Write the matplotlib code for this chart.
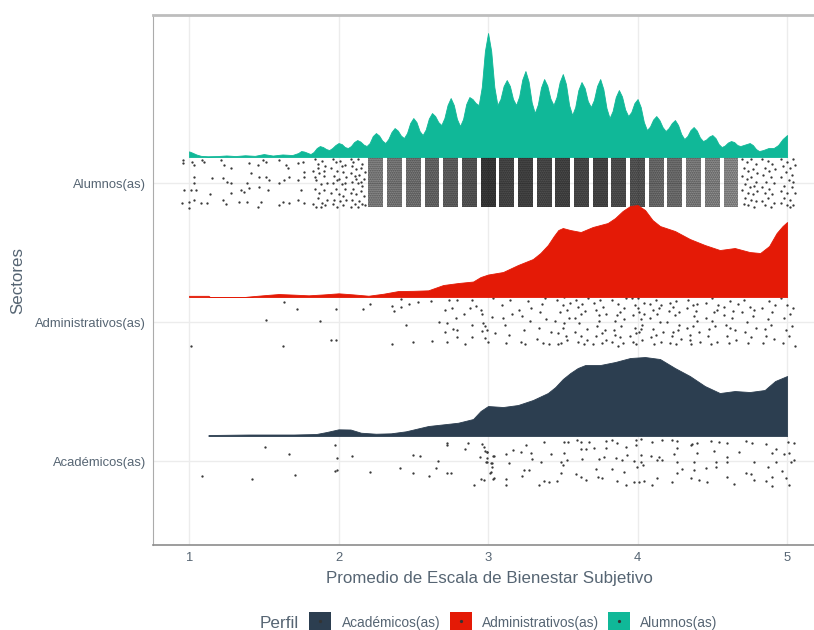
# -*- coding: utf-8 -*-
import matplotlib
matplotlib.use("Agg")
import matplotlib.pyplot as plt
from matplotlib.lines import Line2D
from matplotlib.patches import Rectangle

plt.rcParams['font.family'] = ['Liberation Sans', 'DejaVu Sans']

"""datos"""
sectores = ['Académicos(as)', 'Administrativos(as)', 'Alumnos(as)']
colores = ['#2C3E50', '#E41A06', '#10B898']
x_ticks = [1, 2, 3, 4, 5]

# densidades (centesimas)
alumnos_x = [1.0, 1.02, 1.05, 1.08, 1.125, 1.19, 1.25, 1.31, 1.375, 1.44, 1.5, 1.56, 1.625, 1.69, 1.73, 1.75, 1.77,
             1.8125, 1.833, 1.854, 1.875, 1.896, 1.917, 1.9375, 1.958, 1.979, 2.0, 2.021, 2.042, 2.0625,
             2.083, 2.104, 2.125, 2.146, 2.167, 2.1875, 2.208, 2.229, 2.25, 2.271, 2.292, 2.3125,
             2.333, 2.354, 2.375, 2.396, 2.417, 2.4375, 2.458, 2.479, 2.5, 2.521, 2.542, 2.5625,
             2.583, 2.604, 2.625, 2.646, 2.667, 2.6875, 2.708, 2.729, 2.75, 2.771, 2.792, 2.8125,
             2.833, 2.854, 2.875, 2.896, 2.917, 2.9375, 2.958, 2.979, 3.0, 3.021, 3.042, 3.0625,
             3.083, 3.104, 3.125, 3.146, 3.167, 3.1875, 3.208, 3.229, 3.25, 3.271, 3.292, 3.3125,
             3.333, 3.354, 3.375, 3.396, 3.417, 3.4375, 3.458, 3.479, 3.5, 3.521, 3.542, 3.5625,
             3.583, 3.604, 3.625, 3.646, 3.667, 3.6875, 3.708, 3.729, 3.75, 3.771, 3.792, 3.8125,
             3.833, 3.854, 3.875, 3.896, 3.917, 3.9375, 3.958, 3.979, 4.0, 4.021, 4.042, 4.0625,
             4.083, 4.104, 4.125, 4.146, 4.167, 4.1875, 4.208, 4.229, 4.25, 4.271, 4.292, 4.3125,
             4.333, 4.354, 4.375, 4.396, 4.417, 4.4375, 4.458, 4.479, 4.5, 4.521, 4.542, 4.5625,
             4.583, 4.604, 4.625, 4.646, 4.667, 4.6875, 4.708, 4.729, 4.75, 4.771, 4.792, 4.8125,
             4.84, 4.875, 4.91, 4.94, 4.97, 5.0]
alumnos_d = [5.7, 4.5, 2.5, 1.2, 0.8, 1.0, 1.6, 1.0, 1.8, 1.2, 3.0, 1.5, 2.6, 2.0, 4, 6, 5.5,
             3, 5, 9, 11, 10, 8, 7, 9, 12, 14, 13, 10, 9,
             11, 15, 17, 15.5, 12.5, 11, 14, 21, 24, 21.5, 16.5, 14,
             18, 25, 29, 26.5, 21.5, 19, 24, 34, 39, 35, 26, 22,
             27.5, 38.5, 44, 41, 35, 32, 39, 52, 59, 52, 38, 31,
             38, 53, 60, 58, 54, 52, 70, 106, 124, 106, 70, 52,
             58, 71, 77, 71, 58, 52, 60.5, 77.5, 86, 75.5, 54.5, 44,
             52.5, 69.5, 78, 71.5, 58.5, 52, 60, 75, 83, 73, 52, 42,
             50, 67, 75, 69, 56, 50, 57, 71, 78, 68, 49, 39,
             46, 60, 67, 60.5, 47.5, 41, 45, 54, 58, 50, 35, 27,
             30.5, 37.5, 41, 37, 30, 26, 29, 34, 37, 32, 23, 18,
             21, 27, 30, 26.5, 19.5, 16, 17.5, 20.5, 22, 19, 13, 10,
             11.5, 14.5, 16, 15, 12, 11, 12, 13, 14, 12, 8, 6,
             7, 9, 9, 12, 18, 22]

admin_x = [1.0, 1.13, 1.14, 1.37, 1.4, 1.5, 1.6, 1.7, 1.8, 1.9, 2.0, 2.1, 2.2, 2.3, 2.4, 2.5, 2.6, 2.7, 2.8, 2.9,
           2.95, 3.0, 3.1, 3.2, 3.3, 3.35, 3.4, 3.44, 3.47, 3.5, 3.55, 3.62, 3.7, 3.8, 3.85, 3.9, 3.95, 4.0, 4.05,
           4.1, 4.15, 4.25, 4.35, 4.45, 4.55, 4.65, 4.75, 4.82, 4.88, 4.93, 4.97, 5.0]
admin_d = [1.2, 1.2, 0, 0, 0.5, 1.8, 3, 2.4, 1.7, 2.6, 3.7, 2.6, 1.3, 3.3, 6, 6.2, 6.7, 12, 14, 15.5,
           20, 22.5, 25, 32, 38, 44, 52, 61, 67, 69, 67, 65, 70, 74, 79, 86, 91, 92, 87,
           77, 71, 66, 58, 52, 47, 49, 45, 44, 51, 64, 71, 75]

academicos_x = [1.13, 1.4, 1.7, 1.85, 1.92, 2.0, 2.08, 2.15, 2.25, 2.35, 2.45, 2.6, 2.8, 2.9, 2.95, 3.0, 3.1, 3.2,
                3.3, 3.4, 3.45, 3.5, 3.55, 3.6, 3.65, 3.75, 3.85, 3.95, 4.05, 4.15, 4.25, 4.35, 4.45, 4.55, 4.65,
                4.75, 4.85, 4.92, 5.0]
academicos_d = [1, 1.5, 1.5, 2, 4, 6.7, 6.5, 3.3, 2.3, 2.7, 4.7, 10, 13.3, 17, 25, 30, 29, 31,
                36, 43, 49, 57, 63, 68, 71, 71, 74, 78, 79, 77, 68, 60, 50, 43, 45,
                44, 46, 55, 60]

# puntos individuales (x, y)
academicos_puntos = [
    (1.508, 1.098), (1.671, 1.05), (1.975, 1.115), (1.991, 1.024), (2.089, 1.036), (1.089, 0.892), (1.423, 0.873),
    (1.709, 0.897), (1.978, 0.928), (1.989, 0.938), (2.21, 0.923), (2.414, 0.952), (2.501, 1.041), (2.544, 1.036),
    (2.501, 0.914), (2.667, 1.002), (2.651, 0.952), (2.608, 0.894), (2.723, 1.127), (2.723, 1.115), (2.846, 1.086),
    (2.864, 1.132), (2.727, 0.916), (2.749, 0.916), (2.962, 1.12), (2.946, 1.031), (2.98, 1.072), (2.996, 1.067),
    (2.996, 1.024), (3.031, 1.036), (2.987, 0.99), (3.02, 0.983), (3.029, 0.959), (3.011, 0.914), (2.904, 0.83),
    (2.951, 0.868), (2.975, 0.863), (3.031, 0.873),
    (3.375, 1.139), (3.509, 1.139), (3.535, 1.134), (3.598, 1.151), (3.62, 1.134), (3.676, 1.134), (3.787, 1.144),
    (3.832, 1.151), (3.861, 1.127), (3.988, 1.151), (4.021, 1.158), (4.099, 1.139), (4.166, 1.151), (4.233, 1.151),
    (4.267, 1.144), (4.367, 1.12), (4.4, 1.127), (4.49, 1.144), (4.545, 1.134), (4.601, 1.127), (4.724, 1.144),
    (4.768, 1.127), (4.858, 1.12), (5.003, 1.134), (5.043, 1.127),
    (2.973, 1.103), (2.996, 1.067), (3.04, 1.036), (3.118, 1.048), (3.167, 1.079), (3.219, 1.067), (3.252, 1.115),
    (3.285, 1.055), (3.419, 1.05), (3.509, 1.055), (3.62, 1.086), (3.653, 1.086), (3.709, 1.091), (3.787, 1.091),
    (3.776, 1.031), (3.854, 1.019), (3.921, 1.103), (3.932, 1.043), (3.899, 1.007), (3.988, 1.115), (4.021, 1.043),
    (4.088, 1.036), (4.144, 1.031), (4.166, 1.007), (4.244, 1.048), (4.267, 1.091), (4.356, 1.115), (4.4, 1.055),
    (4.512, 1.072), (4.601, 1.031), (4.679, 1.062), (4.902, 1.055), (4.925, 1.086), (4.98, 1.048), (5.014, 1.055),
    (5.047, 1.007), (2.996, 0.995), (3.029, 0.983), (3.14, 0.983), (3.297, 1.012), (3.352, 0.99), (3.486, 0.99),
    (3.526, 1.007), (3.631, 1.014), (3.743, 1.014), (3.977, 1.0), (4.021, 0.99), (4.133, 1.007), (4.267, 0.995),
    (4.378, 0.995), (4.523, 0.995), (4.601, 0.995), (4.78, 0.995), (4.925, 0.99), (5.025, 0.995),
    (3.018, 0.918), (3.04, 0.875), (3.118, 0.868), (3.118, 0.827), (3.23, 0.892), (3.241, 0.935), (3.274, 0.935),
    (3.341, 0.827), (3.375, 0.858), (3.408, 0.846), (3.464, 0.856), (3.486, 0.911), (3.498, 0.971), (3.587, 0.904),
    (3.62, 0.887), (3.653, 0.863), (3.72, 0.942), (3.736, 0.887), (3.765, 0.875), (3.832, 0.942), (3.865, 0.856),
    (3.91, 0.923), (3.921, 0.827), (3.977, 0.846), (4.01, 0.851), (4.044, 0.856), (3.999, 0.959), (4.033, 0.971),
    (4.099, 0.827), (4.133, 0.88), (4.233, 0.846), (4.267, 0.911), (4.3, 0.942), (4.356, 0.875), (4.378, 0.935),
    (4.412, 0.863), (4.467, 0.851), (4.456, 0.952), (4.523, 0.959), (4.601, 0.887), (4.646, 0.832), (4.724, 0.911),
    (4.757, 0.904), (4.78, 0.863), (4.858, 0.856), (4.869, 0.959), (4.902, 0.887), (4.902, 0.822), (4.969, 0.928),
    (4.992, 0.88), (5.014, 0.827)]

admin_puntos = [
    (1.011, 1.827), (1.626, 1.83), (1.633, 2.146), (1.723, 2.094), (1.515, 2.014), (1.877, 2.005), (1.984, 2.096),
    (2.163, 2.094), (2.208, 2.132), (1.951, 1.871), (1.984, 1.868), (2.36, 1.839), (2.36, 2.115), (2.371, 2.082),
    (2.421, 2.106), (2.421, 2.163), (2.472, 2.132), (2.532, 2.141), (2.62, 2.151), (2.499, 1.859), (2.622, 1.866),
    (2.454, 1.976), (2.673, 1.998), (2.727, 1.993), (2.711, 2.089), (2.758, 2.098), (2.74, 2.158), (2.794, 2.156),
    (2.785, 2.031), (2.763, 1.952), (2.79, 1.942), (2.714, 1.93), (2.79, 1.89), (2.727, 1.859), (2.843, 1.842),
    (2.895, 1.892), (2.893, 1.978), (2.839, 2.058), (2.879, 2.103), (2.89, 2.158), (2.919, 2.113), (2.951, 2.086),
    (2.962, 2.055), (3.025, 2.034), (2.969, 1.99), (2.98, 1.971), (2.991, 1.942), (2.957, 1.938), (3.044, 1.923),
    (2.98, 1.882), (3.002, 1.859), (3.031, 2.17),
    (3.09, 2.12), (3.11, 1.98), (3.14, 1.91), (3.16, 2.06), (3.12, 1.85), (3.15, 2.16), (3.10, 2.03),
    (3.21, 2.09), (3.24, 1.94), (3.27, 2.15), (3.22, 1.86), (3.28, 2.01), (3.25, 1.84), (3.29, 2.1), (3.23, 2.04),
    (3.33, 1.88), (3.36, 2.13), (3.39, 2.02), (3.34, 1.96), (3.41, 1.84), (3.38, 2.17), (3.35, 2.07), (3.42, 1.93), (3.37, 1.85),
    (3.46, 2.16), (3.48, 2.07), (3.51, 1.99), (3.53, 1.87), (3.47, 1.92), (3.5, 2.12), (3.54, 2.03), (3.49, 1.85),
    (3.52, 1.9), (3.45, 2.01), (3.55, 2.14), (3.5, 1.96), (3.53, 2.09), (3.47, 1.84), (3.51, 2.18),
    (3.58, 2.03), (3.6, 1.86), (3.63, 2.13), (3.66, 1.95), (3.59, 2.16), (3.62, 1.9), (3.65, 2.08), (3.61, 1.99),
    (3.64, 1.84), (3.67, 2.17), (3.58, 1.93), (3.62, 2.06), (3.6, 2.11), (3.66, 1.87),
    (3.71, 2.14), (3.73, 1.97), (3.76, 1.85), (3.79, 2.06), (3.72, 1.9), (3.75, 2.16), (3.78, 1.94), (3.74, 2.05),
    (3.77, 2.11), (3.7, 1.84), (3.74, 2.01), (3.79, 1.87), (3.72, 2.09), (3.76, 1.92),
    (3.83, 2.16), (3.85, 2.01), (3.88, 1.89), (3.91, 2.1), (3.84, 1.94), (3.87, 2.13), (3.9, 1.85), (3.86, 2.05),
    (3.89, 1.97), (3.92, 2.17), (3.83, 1.86), (3.88, 2.07), (3.85, 1.91), (3.91, 2.02), (3.87, 1.83),
    (3.96, 2.17), (3.98, 1.96), (4.0, 2.1), (4.03, 1.87), (3.97, 2.05), (4.01, 1.93), (4.04, 2.14), (3.99, 1.84),
    (4.02, 2.02), (3.95, 1.9), (4.0, 2.17), (4.03, 1.98), (3.97, 1.86), (4.01, 2.07), (3.99, 1.92), (4.02, 1.95),
    (4.04, 2.06), (3.98, 2.12),
    (4.08, 2.13), (4.1, 1.95), (4.13, 2.06), (4.16, 1.86), (4.09, 1.89), (4.12, 2.16), (4.15, 2.0), (4.11, 1.84),
    (4.14, 2.1), (4.17, 1.93), (4.08, 2.03), (4.12, 1.91), (4.16, 2.12), (4.1, 2.09),
    (4.21, 2.08), (4.23, 1.9), (4.26, 2.15), (4.28, 1.98), (4.22, 1.85), (4.25, 2.05), (4.29, 1.88), (4.24, 2.11),
    (4.27, 1.94), (4.2, 2.0), (4.26, 1.84), (4.22, 2.14), (4.28, 2.07), (4.24, 1.93),
    (4.33, 2.1), (4.35, 1.87), (4.38, 2.04), (4.41, 1.93), (4.34, 2.16), (4.37, 1.97), (4.4, 2.13), (4.36, 1.84),
    (4.39, 2.08), (4.42, 1.86), (4.33, 1.96), (4.37, 2.12), (4.4, 2.01), (4.35, 1.91),
    (4.46, 2.14), (4.48, 1.95), (4.51, 2.07), (4.53, 1.86), (4.47, 1.9), (4.5, 2.01), (4.54, 2.12), (4.49, 1.84),
    (4.52, 1.97), (4.46, 2.03), (4.5, 2.17), (4.53, 2.09),
    (4.58, 2.11), (4.6, 1.9), (4.63, 2.03), (4.66, 1.87), (4.59, 1.98), (4.62, 2.15), (4.65, 1.94), (4.61, 1.85),
    (4.64, 2.08), (4.58, 2.05), (4.62, 1.96), (4.67, 2.13),
    (4.71, 2.16), (4.73, 2.0), (4.76, 1.89), (4.78, 2.09), (4.72, 1.93), (4.75, 2.11), (4.79, 1.96), (4.74, 1.85),
    (4.77, 2.04), (4.7, 2.07),
    (4.83, 2.1), (4.85, 1.95), (4.88, 2.15), (4.91, 1.88), (4.84, 1.85), (4.87, 2.02), (4.9, 2.07), (4.86, 1.9),
    (4.92, 2.12), (4.89, 1.98),
    (4.96, 2.17), (4.98, 2.03), (5.01, 1.9), (5.04, 2.1), (4.97, 1.85), (5.0, 2.12), (5.03, 1.97), (4.99, 1.94),
    (5.02, 2.06), (5.05, 1.83)]

alumnos_puntos = [
    (0.96, 3.166), (0.96, 3.142), (1.018, 3.154), (1.034, 3.13), (1.089, 3.166), (1.101, 3.154), (1.213, 3.166),
    (1.235, 3.13), (1.28, 3.106), (1.403, 3.142), (1.414, 3.07), (1.459, 3.13), (1.492, 3.166), (1.515, 3.154),
    (1.604, 3.166), (1.649, 3.13), (1.66, 3.106), (1.727, 3.142), (1.761, 3.154), (1.772, 3.082), (1.034, 3.046),
    (1.034, 2.998), (1.152, 3.034), (1.224, 3.034), (1.257, 3.01), (1.28, 2.998), (0.966, 2.95), (1.011, 2.95),
    (1.045, 2.95), (1.139, 2.921), (1.28, 2.926), (1.347, 2.95), (1.391, 2.998), (1.403, 2.962), (1.369, 2.938),
    (1.47, 3.046), (1.515, 3.046), (1.537, 3.022), (1.47, 2.974), (1.526, 2.95), (1.604, 2.998), (1.638, 3.022),
    (1.671, 3.046), (1.727, 3.022), (1.772, 3.046), (1.749, 2.95), (1.626, 2.866), (1.671, 2.854), (1.727, 2.878),
    (1.772, 2.854), (0.955, 2.854), (1.0, 2.866), (1.034, 2.878), (1.078, 2.854), (1.123, 2.858), (1.224, 2.878),
    (1.246, 2.849), (1.336, 2.866), (1.391, 2.866), (1.459, 2.83), (1.481, 2.866), (1.604, 2.842), (1.0, 2.818),
    # nivel 1.875
    (1.84, 3.17), (1.86, 3.14), (1.89, 3.16), (1.91, 3.12), (1.83, 3.09), (1.87, 3.07), (1.9, 3.05), (1.85, 3.02),
    (1.88, 2.99), (1.92, 3.0), (1.84, 2.96), (1.87, 2.93), (1.9, 2.95), (1.86, 2.89), (1.89, 2.86), (1.92, 2.88),
    (1.83, 2.85), (1.85, 2.83), (1.88, 2.83), (1.91, 2.84), (1.86, 3.11), (1.9, 3.09), (1.84, 3.04),
    # nivel 2.0
    (1.96, 3.17), (1.98, 3.15), (2.01, 3.16), (2.04, 3.13), (1.95, 3.11), (1.99, 3.09), (2.03, 3.08), (1.97, 3.05),
    (2.0, 3.03), (2.05, 3.04), (1.96, 3.0), (2.02, 2.99), (1.98, 2.96), (2.04, 2.96), (1.95, 2.93), (2.0, 2.92),
    (2.03, 2.91), (1.97, 2.88), (2.01, 2.87), (2.05, 2.88), (1.96, 2.85), (1.99, 2.83), (2.03, 2.84), (2.02, 3.12),
    (1.99, 3.02), (2.04, 3.0),
    # nivel 2.125
    (2.08, 3.17), (2.1, 3.15), (2.13, 3.17), (2.16, 3.14), (2.09, 3.12), (2.12, 3.1), (2.15, 3.11), (2.18, 3.08),
    (2.08, 3.07), (2.11, 3.05), (2.14, 3.06), (2.17, 3.03), (2.09, 3.01), (2.13, 3.0), (2.16, 2.98), (2.1, 2.96),
    (2.15, 2.94), (2.08, 2.93), (2.12, 2.92), (2.17, 2.91), (2.09, 2.88), (2.14, 2.87), (2.11, 2.85), (2.16, 2.85),
    (2.08, 2.83), (2.13, 2.83), (2.18, 2.84), (2.12, 3.03), (2.15, 3.01),
    # nivel 4.75
    (4.7, 3.17), (4.73, 3.15), (4.76, 3.17), (4.79, 3.14), (4.71, 3.11), (4.74, 3.09), (4.77, 3.1), (4.8, 3.07),
    (4.7, 3.05), (4.73, 3.03), (4.76, 3.04), (4.79, 3.01), (4.72, 2.99), (4.75, 2.97), (4.78, 2.98), (4.7, 2.95),
    (4.74, 2.93), (4.77, 2.92), (4.8, 2.94), (4.72, 2.89), (4.76, 2.88), (4.79, 2.87), (4.71, 2.85), (4.74, 2.84),
    (4.78, 2.83),
    # nivel 4.875
    (4.83, 3.17), (4.87, 3.16), (4.9, 3.14), (4.85, 3.11), (4.88, 3.09), (4.92, 3.1), (4.84, 3.06), (4.89, 3.04),
    (4.86, 3.01), (4.91, 3.0), (4.83, 2.97), (4.88, 2.96), (4.85, 2.93), (4.9, 2.92), (4.87, 2.89), (4.83, 2.87),
    (4.91, 2.86), (4.85, 2.84), (4.89, 2.83),
    # nivel 5.0
    (4.96, 3.17), (5.0, 3.15), (5.04, 3.17), (4.97, 3.12), (5.02, 3.11), (5.05, 3.13), (4.99, 3.08), (5.03, 3.06),
    (4.96, 3.04), (5.01, 3.02), (5.04, 3.01), (4.98, 2.98), (5.03, 2.97), (4.96, 2.94), (5.0, 2.93), (5.05, 2.93),
    (4.98, 2.89), (5.02, 2.88), (4.96, 2.86), (5.0, 2.84), (5.04, 2.84), (5.02, 2.83)]

# franjas densas de alumnos: nivel y oscuridad estimada
franja_niveles = [2.25, 2.375, 2.5, 2.625, 2.75, 2.875, 3.0, 3.125, 3.25, 3.375, 3.5, 3.625, 3.75,
                  3.875, 4.0, 4.125, 4.25, 4.375, 4.5, 4.625]
franja_oscuridad = [0.5, 0.55, 0.6, 0.68, 0.72, 0.8, 1.0, 0.9, 0.92, 0.88, 0.92, 0.88, 0.9,
                    0.85, 0.8, 0.65, 0.62, 0.52, 0.48, 0.42]

gris = '#566573'

fig = plt.figure(figsize=(8.14, 6.3), dpi=100)
ax = fig.add_axes([153 / 814, 85 / 630, 661 / 814, 530 / 630])
ax.set_xlim(0.759, 5.18)
ax.set_ylim(0.396, 4.209)
ax.grid(True, color='#ECECEC', linewidth=1)
ax.set_axisbelow(True)

# curvas de densidad
esc = 1 / 139
for base, xs, ds, col in [(3.187, alumnos_x, alumnos_d, colores[2]),
                          (2.18, admin_x, admin_d, colores[1]),
                          (1.18, academicos_x, academicos_d, colores[0])]:
    ax.fill_between(xs, base, [base + d * esc for d in ds], color=col, linewidth=0.6, zorder=3)

# franjas de puntos de alumnos
for nivel, osc in zip(franja_niveles, franja_oscuridad):
    ax.bar(nivel, 0.36, width=0.1, bottom=2.825, color=(0, 0, 0, osc * 0.72), linewidth=0, zorder=2)
    ax.bar(nivel, 0.36, width=0.1, bottom=2.825, facecolor='none', edgecolor=(0, 0, 0, 0.6),
           hatch='.' * 8, linewidth=0, zorder=2)

for puntos in [alumnos_puntos, admin_puntos, academicos_puntos]:
    ax.scatter([p[0] for p in puntos], [p[1] for p in puntos], s=2.8, color='#3a3a3a', linewidths=0, zorder=2.5)

ax.set_xticks(x_ticks)
ax.set_yticks([1, 2, 3])
ax.set_yticklabels(sectores)
ax.tick_params(axis='x', length=0, labelsize=9.4, labelcolor=gris, pad=5)
ax.tick_params(axis='y', length=0, labelsize=9.4, labelcolor=gris, pad=5)
ax.set_xlabel('Promedio de Escala de Bienestar Subjetivo', fontsize=12.2, color=gris)
ax.xaxis.set_label_coords((489 - 153) / 661, -26 / 530)
ax.set_ylabel('Sectores', fontsize=12.2, color=gris)
ax.yaxis.set_label_coords(-128 / 661, 0.5)

ax.spines['right'].set_visible(False)
ax.spines['top'].set_color('#BDBDBD')
ax.spines['top'].set_linewidth(2)
ax.spines['left'].set_color('#ABABAB')
ax.spines['bottom'].set_color('#8C8C8C')
ax.spines['bottom'].set_linewidth(1.2)

# leyenda
fig.text(260 / 814, 7 / 630, 'Perfil', fontsize=12.3, color=gris, va='center')
for nombre, col, xk, xt in zip(sectores, colores, [309, 450, 608], [342, 482, 640]):
    fig.add_artist(Rectangle((xk / 814, 0), 22 / 814, 18 / 630, transform=fig.transFigure, color=col, lw=0))
    fig.add_artist(Line2D([(xk + 11) / 814], [9 / 630], marker='o', ms=1.3, color='#333333', lw=0,
                          transform=fig.transFigure))
    fig.text(xt / 814, 7 / 630, nombre, fontsize=9.9, color=gris, va='center')

plt.savefig('out.png', dpi=100)
